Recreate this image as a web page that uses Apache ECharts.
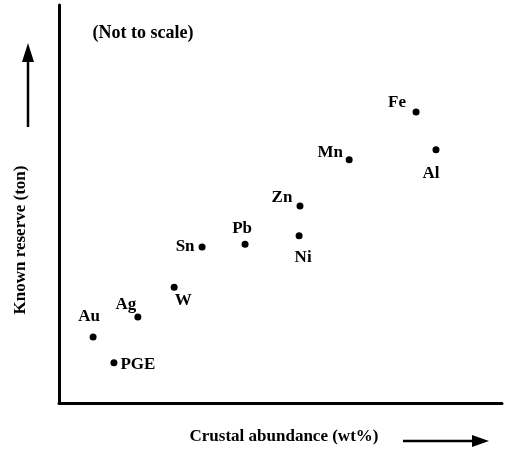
<!DOCTYPE html>
<html>
<head>
<meta charset="utf-8">
<script src="https://cdn.jsdelivr.net/npm/echarts@6/dist/echarts.min.js"></script>
<style>html,body{margin:0;padding:0;background:#fff}#c{width:510px;height:454px}</style>
</head>
<body>
<div id="c"></div>
<script>
// Elements (arbitrary, not-to-scale units)
const elements = ['Au','PGE','Ag','W','Sn','Pb','Ni','Zn','Mn','Fe','Al'];
const abundance = [7.7, 12.4, 17.8, 26.0, 32.3, 42.0, 54.2, 54.4, 65.5, 80.6, 85.1];
const reserve   = [16.6, 10.1, 21.6, 29.1, 39.2, 39.9, 42.0, 49.5, 61.1, 73.1, 63.6];
// label offsets relative to each dot (style only)
const labelOffsets = [[-4,-20],[24,2],[-12,-12],[9,13],[-17,0],[-3,-16],[4,22],[-18,-8],[-19,-7],[-19,-9],[-5,24]];

const font = 'Liberation Serif, Times New Roman, serif';
const chart = echarts.init(document.getElementById('c'));
chart.setOption({
  animation: false,
  grid: {left: 59, right: 8, top: 5, bottom: 51},
  xAxis: {type: 'value', min: 0, max: 100, axisLine: {show: true, lineStyle: {color: '#000', width: 3}},
    axisTick: {show: false}, axisLabel: {show: false}, splitLine: {show: false}},
  yAxis: {type: 'value', min: 0, max: 100, axisLine: {show: true, lineStyle: {color: '#000', width: 3}},
    axisTick: {show: false}, axisLabel: {show: false}, splitLine: {show: false}},
  series: [{
    type: 'scatter',
    symbol: 'circle',
    symbolSize: 7,
    itemStyle: {color: '#000', opacity: 1},
    data: elements.map((n, i) => ({
      value: [abundance[i], reserve[i]],
      name: n,
      label: {show: true, position: 'inside', offset: labelOffsets[i], formatter: n,
        color: '#000', fontFamily: font, fontSize: 17, fontWeight: 'bold', align: 'center', verticalAlign: 'middle'}
    }))
  }],
  graphic: [
    {type: 'text', x: 143, y: 33, style: {text: '(Not to scale)', font: 'bold 18px ' + font, fill: '#000', align: 'center', verticalAlign: 'middle'}},
    {type: 'text', x: 284, y: 437, style: {text: 'Crustal abundance (wt%)', font: 'bold 17px ' + font, fill: '#000', align: 'center', verticalAlign: 'middle'}},
    {type: 'text', x: 21, y: 240, rotation: Math.PI / 2, style: {text: 'Known reserve (ton)', font: 'bold 17px ' + font, fill: '#000', align: 'center', verticalAlign: 'middle'}},
    // y arrow
    {type: 'line', shape: {x1: 28, y1: 127, x2: 28, y2: 58}, style: {stroke: '#000', lineWidth: 2.5}},
    {type: 'polygon', shape: {points: [[28, 43], [22, 62], [34, 62]]}, style: {fill: '#000'}},
    // x arrow
    {type: 'line', shape: {x1: 403, y1: 441, x2: 476, y2: 441}, style: {stroke: '#000', lineWidth: 2.5}},
    {type: 'polygon', shape: {points: [[489, 441], [472, 435], [472, 447]]}, style: {fill: '#000'}}
  ]
});
</script>
</body>
</html>
